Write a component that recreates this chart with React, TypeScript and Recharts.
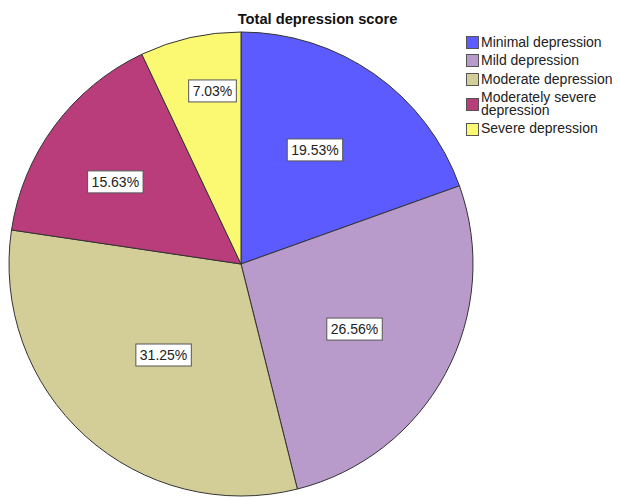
import { Legend, Pie, PieChart } from "recharts";

const categories = [
  "Minimal depression",
  "Mild depression",
  "Moderate depression",
  "Moderately severe depression",
  "Severe depression",
];
const counts = [25, 34, 40, 20, 9];
const colors = ["#5b5bff", "#b89bcb", "#d3ce98", "#b93d7a", "#fbf871"];
// SPSS places the labels at different spots inside each slice
const labelDepth = [0.586, 0.564, 0.515, 0.647, 0.756];
const labelTurn = [-2.2, 1.7, -1.8, -3.4, 3.3]; // degrees, clockwise

const data = categories.map((name, i) => ({ name, value: counts[i], fill: colors[i] }));
const total = counts.reduce((a, b) => a + b, 0);

const RADIAN = Math.PI / 180;
const FONT = "'Liberation Sans', Arial, sans-serif";

function textWidth(s: string) {
  let w = 0;
  for (const c of s) w += c === "." ? 3.89 : c === "%" ? 12.45 : 7.78;
  return w;
}

const SliceLabel = (props: any) => {
  const { cx, cy, midAngle, outerRadius, index, value } = props;
  const r = outerRadius * labelDepth[index];
  const a = (midAngle - labelTurn[index]) * RADIAN;
  const x = cx + r * Math.cos(-a);
  const y = cy + r * Math.sin(-a);
  const txt = `${((value / total) * 100).toFixed(2)}%`;
  const w = textWidth(txt) + 8;
  return (
    <g>
      <rect x={x - w / 2} y={y - 11} width={w} height={22} fill="#fff" stroke="#555" strokeWidth={1} />
      <text x={x} y={y} dy={5} textAnchor="middle" fontSize={14} fontFamily={FONT} fill="#222">
        {txt}
      </text>
    </g>
  );
};

const LegendBox = () => (
  <div style={{ fontFamily: FONT, fontSize: 14, color: "#222", lineHeight: "13.3px" }}>
    {categories.map((c, i) => (
      <div key={c} style={{ display: "flex", alignItems: "center", marginBottom: 5 }}>
        <span
          style={{
            width: 11,
            height: 11,
            background: colors[i],
            border: "1px solid #555",
            marginRight: 2,
            flexShrink: 0,
          }}
        />
        <span style={{ width: 135 }}>{c}</span>
      </div>
    ))}
  </div>
);

export default function App() {
  return (
    <div style={{ position: "absolute", left: 0, top: 0, width: 620, height: 498, background: "#fff" }}>
      <PieChart width={620} height={498} margin={{ top: 0, right: 0, bottom: 0, left: 0 }}>
        <text x={317.5} y={24} textAnchor="middle" fontSize={14.7} fontWeight="bold" fontFamily={FONT} fill="#111">
          Total depression score
        </text>
        <Pie
          data={data}
          dataKey="value"
          nameKey="name"
          cx={241}
          cy={264}
          outerRadius={232}
          startAngle={90}
          endAngle={-270}
          stroke="#333"
          strokeWidth={1}
          label={SliceLabel}
          labelLine={false}
          isAnimationActive={false}
        />
        <Legend
          layout="vertical"
          verticalAlign="top"
          align="right"
          content={<LegendBox />}
          wrapperStyle={{ position: "absolute", left: 466, top: 36, width: 152 }}
        />
      </PieChart>
    </div>
  );
}
